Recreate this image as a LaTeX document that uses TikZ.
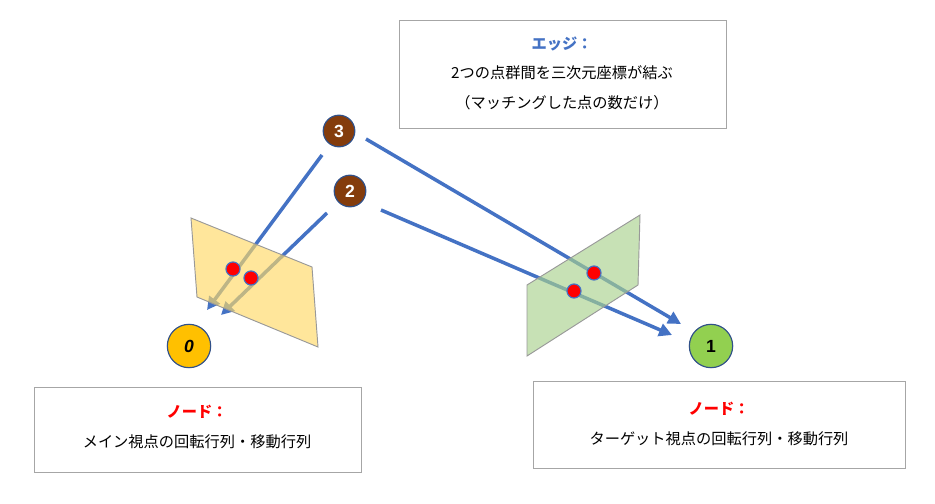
\documentclass[tikz,border=0pt]{standalone}
\usepackage{fontspec}
\newfontfamily\cjk{Noto Sans CJK JP}
\setsansfont{Liberation Sans}
\usetikzlibrary{arrows.meta}
\definecolor{edgeblue}{HTML}{4472C4}
\definecolor{brownnode}{HTML}{843C0C}
\definecolor{goldnode}{HTML}{FFC000}
\definecolor{greennode}{HTML}{92D050}
\definecolor{yellowplane}{HTML}{FFD966}
\definecolor{greenplane}{HTML}{A9D18E}
\definecolor{labelred}{HTML}{FF0000}
\begin{document}
\begin{tikzpicture}[x=0.03cm,y=-0.03cm,font=\cjk\fontsize{13}{15}\selectfont]
\tikzstyle{textbox}=[draw=gray!70,line width=0.8pt,fill=white]
\tikzstyle{ptnode}=[circle,draw=edgeblue!70!black,line width=1pt,minimum size=37pt,inner sep=0pt,font=\sffamily\bfseries\fontsize{15}{17}\selectfont]
\tikzstyle{match}=[-{Triangle[length=11pt,width=11pt]},edgeblue,line width=3pt]
\tikzstyle{hit}=[circle,fill=red,draw=edgeblue,line width=1pt,minimum size=12pt,inner sep=0pt]
\tikzstyle{plane}=[draw=gray!80,line width=0.8pt,fill opacity=0.65]
\useasboundingbox (0,0) rectangle (935,503);
% text boxes
\draw[textbox] (399,20) rectangle (726,128);
\node (etitle) at (562,44) {\color{edgeblue}\bfseries エッジ：};
\node (eline1) at (562,73) {2つの点群間を三次元座標が結ぶ};
\node (eline2) at (562,103) {（マッチングした点の数だけ）};
\draw[textbox] (34,387) rectangle (361,472);
\node (ltitle) at (197,412) {\color{labelred}\bfseries ノード：};
\node (lline) at (197,442) {メイン視点の回転行列・移動行列};
\draw[textbox] (533,381) rectangle (905,468);
\node (rtitle) at (719,409) {\color{labelred}\bfseries ノード：};
\node (rline) at (719,439) {ターゲット視点の回転行列・移動行列};
% nodes
\node[ptnode,fill=brownnode,text=white,minimum size=27pt] (n3) at (339,131) {3};
\node[ptnode,fill=brownnode,text=white,minimum size=27pt] (n2) at (350,191) {2};
\node[ptnode,fill=goldnode,font=\sffamily\bfseries\itshape\fontsize{15}{17}\selectfont] (n0) at (189,346) {0};
\node[ptnode,fill=greennode] (n1) at (711,346) {1};
% edges
\coordinate (s3a) at (322,155);
\coordinate (e3a) at (207,310);
\coordinate (s2a) at (327,213);
\coordinate (e2a) at (221,315);
\coordinate (s3b) at (366,139);
\coordinate (e3b) at (681,324);
\coordinate (s2b) at (381,210);
\coordinate (e2b) at (672,335);
\draw[match] (s3a) -- (e3a);
\draw[match] (s2a) -- (e2a);
\draw[match] (s3b) -- (e3b);
\draw[match] (s2b) -- (e2b);
% image planes
\draw[plane,fill=yellowplane] (191,218) -- (312,267) -- (318,347) -- (197,297) -- cycle;
\draw[plane,fill=greenplane] (527,285) -- (640,215) -- (638,285) -- (527,356) -- cycle;
% matched points
\node[hit] (p3a) at (233,269) {};
\node[hit] (p2a) at (251,278) {};
\node[hit] (p3b) at (594,273) {};
\node[hit] (p2b) at (574,291) {};
\end{tikzpicture}
\end{document}
